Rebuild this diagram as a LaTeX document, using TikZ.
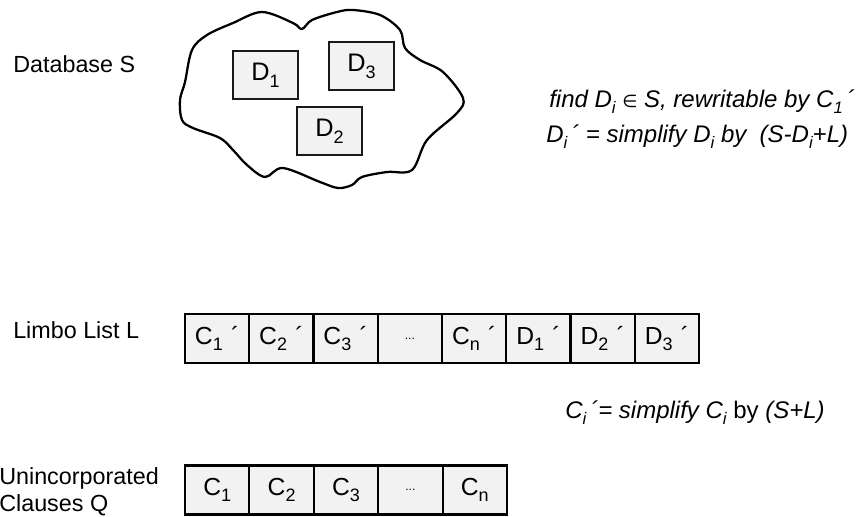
\documentclass[tikz,border=0pt]{standalone}
\usepackage{fontspec}
\setmainfont{Liberation Sans}
\newfontfamily\dejavu{DejaVu Sans}
\newcommand\sbs[1]{\raisebox{-4.5pt}{\fontsize{12.5}{12.5}\selectfont #1}}
\newcommand\sbb[1]{\raisebox{-5pt}{\fontsize{13.5}{13.5}\selectfont #1}}
\newcommand\elli{{\fontsize{9}{9}\selectfont ...}}
\newcommand\pr{\,\,´}
\definecolor{cellfill}{HTML}{F2F2F2}
\begin{document}
\begin{tikzpicture}[x=0.75pt,y=-0.75pt,
  every node/.style={font=\fontsize{17.5}{20}\selectfont},
  lbl/.style={anchor=west,inner sep=0pt},
  fml/.style={lbl,font=\fontsize{18}{20}\selectfont},
  cell/.style={draw=black,fill=cellfill,line width=1.6pt,minimum width=48.2pt,minimum height=36.75pt,inner sep=0pt,anchor=center,font=\fontsize{18.5}{20}\selectfont},
  qcell/.style={cell,minimum width=48.3pt},
  dbox/.style={draw=black!90,fill=cellfill,line width=1.5pt,minimum width=48.75pt,minimum height=36pt,inner sep=0pt,font=\fontsize{19}{20}\selectfont},
  cloud/.style={draw=black,line width=1.7pt,line join=round}]
\useasboundingbox (0,0) rectangle (860,517);
% cloud
\draw[cloud] plot[smooth cycle,tension=0.55] coordinates {
 (262,12) (293,23) (302,29) (312,20) (337,12) (353,10) (380,15) (400,30) (405,48)
 (420,60) (443,72) (463,98) (457,113) (427,140) (412,170) (387,172) (362,177)
 (352,185) (338,188) (320,182) (283,168) (265,177) (247,165) (233,150) (220,138)
 (193,128) (182,120) (180,100) (185,82) (192,50) (207,35) (233,23)};
\node[dbox] (D1) at (265.5,75) {D\sbb{1}};
\node[dbox] (D3) at (361.5,66.5) {D\sbb{3}};
\node[dbox] (D2) at (329.5,131) {D\sbb{2}};
% labels
\node[lbl] (tS) at (13,64) {Database S};
\node[lbl] (tL) at (13,330) {Limbo List L};
\node[lbl,align=left,font=\fontsize{17.5}{20}\selectfont] (tQ) at (-1,492) {Unincorporated\\Clauses Q};
% formulas
\node[fml] (f1) at (549,102) {\itshape find D\sbs{i} {\dejavu\fontsize{13}{13}\selectfont ∈} S, rewritable by C\sbs{1}\,´};
\node[fml] (f2) at (546,137) {\itshape D\sbs{i}\,´ = simplify D\sbs{i} by\ \ (S-D\sbs{i}+L)};
\node[fml] (f3) at (565,413) {\textit{C\sbs{i}\,´= simplify C\sbs{i}} by \textit{(S+L)}};
% limbo list
\foreach \t [count=\i] in {C\sbb{1}\pr,C\sbb{2}\pr,C\sbb{3}\pr,\elli,C\sbb{n}\pr,D\sbb{1}\pr,D\sbb{2}\pr,D\sbb{3}\pr}
  \node[cell] (L\i) at ({185+64.25*(\i-0.5)},338.5) {\t};
% unincorporated clauses
\foreach \t [count=\i] in {C\sbb{1},C\sbb{2},C\sbb{3},\elli,C\sbb{n}}
  \node[qcell] (Q\i) at ({185+64.4*(\i-0.5)},490) {\t};
\end{tikzpicture}
\end{document}
